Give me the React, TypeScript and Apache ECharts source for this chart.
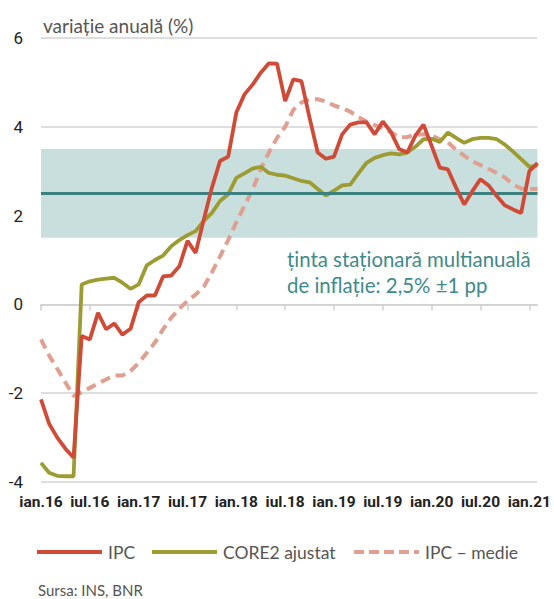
import React, { useEffect, useRef } from "react";
import * as echarts from "echarts";

const monthNames = ["ian", "feb", "mar", "apr", "mai", "iun", "iul", "aug", "sep", "oct", "noi", "dec"];
const years = ["16", "17", "18", "19", "20", "21"];
const categories = years.flatMap((y) => monthNames.map((m) => `${m}.${y}`)).slice(0, 62);

const ipc = [
  -2.14, -2.69, -3.0, -3.25, -3.45, -0.71, -0.79, -0.19, -0.56, -0.43, -0.68, -0.55,
  0.05, 0.2, 0.2, 0.63, 0.65, 0.86, 1.43, 1.16, 1.91, 2.63, 3.23, 3.33,
  4.32, 4.73, 4.95, 5.22, 5.43, 5.42, 4.58, 5.07, 5.03, 4.2, 3.42, 3.28,
  3.33, 3.83, 4.05, 4.1, 4.1, 3.83, 4.12, 3.88, 3.5, 3.42, 3.8, 4.05,
  3.57, 3.08, 3.04, 2.63, 2.25, 2.55, 2.82, 2.68, 2.44, 2.23, 2.14, 2.06, 3.0, 3.18,
];

const core2 = [
  -3.57, -3.79, -3.86, -3.87, -3.87, 0.45, 0.52, 0.56, 0.58, 0.6, 0.49, 0.35,
  0.45, 0.88, 1.0, 1.1, 1.31, 1.45, 1.56, 1.65, 1.88, 2.06, 2.33, 2.48,
  2.85, 2.95, 3.06, 3.1, 2.96, 2.92, 2.9, 2.84, 2.78, 2.75, 2.6, 2.45,
  2.56, 2.68, 2.7, 2.95, 3.19, 3.3, 3.36, 3.4, 3.38, 3.42, 3.55, 3.72,
  3.73, 3.66, 3.87, 3.75, 3.64, 3.72, 3.75, 3.75, 3.72, 3.6, 3.44, 3.27, 3.1, 3.13,
];

const ipcMedie = [
  -0.79, -1.15, -1.45, -1.76, -2.06, -1.98, -1.88, -1.78, -1.69, -1.6, -1.6, -1.5,
  -1.32, -1.09, -0.86, -0.56, -0.3, -0.1, 0.08, 0.22, 0.4, 0.72, 1.08, 1.45,
  1.85, 2.22, 2.58, 3.05, 3.42, 3.75, 4.0, 4.38, 4.55, 4.62, 4.62, 4.57,
  4.48, 4.42, 4.34, 4.22, 4.12, 4.04, 3.97, 3.88, 3.76, 3.77, 3.82, 3.83,
  3.8, 3.72, 3.65, 3.48, 3.35, 3.22, 3.14, 3.05, 2.96, 2.86, 2.7, 2.61, 2.6, 2.6,
];

const targetValue = 2.5;
const bandLow = 1.5;
const bandHigh = 3.5;

const seriesNames = ["IPC", "CORE2 ajustat", "IPC – medie"];
const colors = { ipc: "#cf4b38", core2: "#9c9c32", medie: "#dea090" };

const numFont = "Roboto, 'Liberation Sans', sans-serif";
const humanist = "Lato, 'Noto Sans', sans-serif";

export default function App() {
  const ref = useRef<HTMLDivElement>(null);

  useEffect(() => {
    document.body.style.margin = "0";
    if (!ref.current) return;
    const chart = echarts.init(ref.current, undefined, { renderer: "svg" });

    const legendY = 552;
    const legendItems = [
      { name: seriesNames[0], x: 37, color: colors.ipc, dash: null as number[] | null },
      { name: seriesNames[1], x: 152, color: colors.core2, dash: null as number[] | null },
      { name: seriesNames[2], x: 354, color: colors.medie, dash: [10, 5] },
    ];
    const legendGraphics = legendItems.flatMap((it) => [
      {
        type: "line",
        shape: { x1: it.x, y1: legendY, x2: it.x + 65, y2: legendY },
        style: { stroke: it.color, lineWidth: 4, lineDash: it.dash || undefined },
      },
      {
        type: "text",
        x: it.x + 71,
        y: legendY,
        style: {
          text: it.name,
          font: `17.5px ${humanist}`,
          fill: "#555",
          verticalAlign: "middle",
          align: "left",
        },
      },
    ]);

    chart.setOption({
      animation: false,
      backgroundColor: "#ffffff",
      grid: { left: 41, right: 13, top: 38, bottom: 117, containLabel: false },
      xAxis: [
        {
          type: "category",
          data: categories,
          boundaryGap: false,
          position: "bottom",
          axisLine: { show: false, onZero: false },
          axisTick: { show: false },
          axisLabel: {
            interval: 5,
            margin: 12,
            fontFamily: numFont,
            fontSize: 15.5,
            fontWeight: "bold",
            color: "#222",
          },
          splitLine: { show: false },
        },
        {
          type: "category",
          data: categories,
          boundaryGap: false,
          position: "bottom",
          axisLine: { show: true, onZero: true, lineStyle: { color: "#cfcfcf", width: 1.5 } },
          axisTick: { show: true, interval: 5, length: 6, lineStyle: { color: "#cfcfcf", width: 1.5 } },
          axisLabel: { show: false },
          splitLine: { show: false },
        },
      ],
      yAxis: {
        type: "value",
        min: -4,
        max: 6,
        interval: 2,
        axisLine: { show: false },
        axisTick: { show: false },
        axisLabel: { margin: 18, fontFamily: numFont, fontSize: 17, color: "#222" },
        splitLine: { show: true, lineStyle: { color: "#d3d3d3", width: 1.5 } },
      },
      series: [
        {
          name: "band",
          type: "line",
          data: [],
          z: 1,
          silent: true,
          markArea: {
            silent: true,
            itemStyle: { color: "#c9dfde" },
            data: [[{ yAxis: bandLow }, { yAxis: bandHigh }]],
          },
          markLine: {
            silent: true,
            symbol: "none",
            label: { show: false },
            lineStyle: { color: "#3d8080", width: 3, type: "solid" },
            data: [{ yAxis: targetValue }],
          },
        },
        {
          name: seriesNames[2],
          type: "line",
          data: ipcMedie,
          z: 3,
          symbol: "none",
          lineStyle: { color: colors.medie, width: 4, type: [10, 6] },
        },
        {
          name: seriesNames[1],
          type: "line",
          data: core2,
          z: 4,
          symbol: "none",
          lineStyle: { color: colors.core2, width: 3.8 },
        },
        {
          name: seriesNames[0],
          type: "line",
          data: ipc,
          z: 5,
          symbol: "none",
          lineStyle: { color: colors.ipc, width: 3.8 },
        },
      ],
      graphic: [
        {
          type: "text",
          left: 43,
          top: 16,
          style: { text: "variație anuală (%)", font: `19px ${humanist}`, fill: "#555" },
        },
        {
          type: "text",
          left: 287,
          top: 246,
          style: {
            text: "ținta staționară multianuală\nde inflație: 2,5% ±1 pp",
            font: `20.4px ${humanist}`,
            fill: "#3e8a8a",
            lineHeight: 26,
          },
        },
        {
          type: "text",
          left: 38,
          top: 582,
          style: { text: "Sursa: INS, BNR", font: `15px ${humanist}`, fill: "#555" },
        },
        ...legendGraphics,
      ],
    });

    return () => chart.dispose();
  }, []);

  return <div ref={ref} style={{ position: "fixed", left: 0, top: 0, width: 554, height: 599 }} />;
}
